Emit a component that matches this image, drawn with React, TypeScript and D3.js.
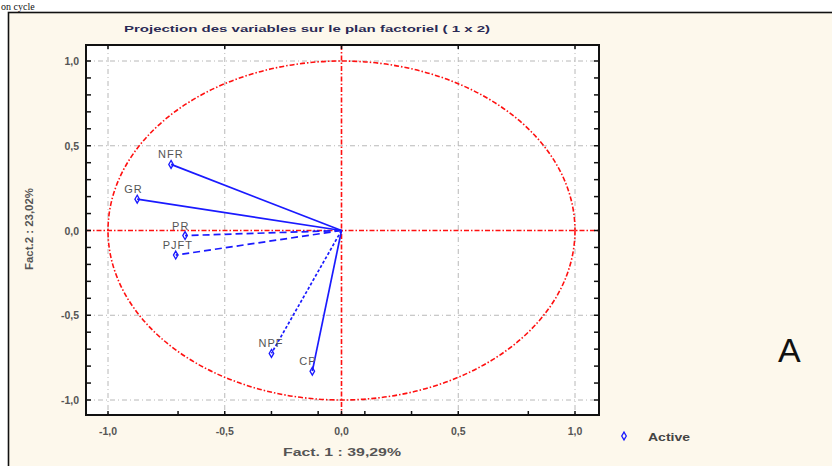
import React from "react";
import * as d3 from "d3";

const variables = ["NFR", "GR", "PR", "PJFT", "NPF", "CP"];
const fact1 = [-0.73, -0.875, -0.67, -0.71, -0.30, -0.125];
const fact2 = [0.39, 0.185, -0.03, -0.145, -0.725, -0.83];
const dashes = ["none", "none", "7,4", "7,4", "3,2", "none"];
const majorTicks = [-1, -0.5, 0, 0.5, 1];
const majorTickLabels = ["-1,0", "-0,5", "0,0", "0,5", "1,0"];
const xMinorTicks = [-0.7, -0.3, -0.1, 0.1, 0.3, 0.8];
const yMinorTicks = d3.range(-10, 11).map((d) => d / 10);

export default function App() {
  const x = d3.scaleLinear().domain([-1, 1]).range([108, 575]);
  const y = d3.scaleLinear().domain([-1, 1]).range([400, 61]);
  const plot = { left: 86, right: 599, top: 45, bottom: 415 };
  const blue = "#1a1aff";
  const red = "#ff1010";
  const grid = "#b8b8b8";
  return (
    <svg width={832} height={466} style={{ position: "absolute", left: 0, top: 0 }} fontFamily="Liberation Sans, Arial, sans-serif">
      <rect x={0} y={0} width={832} height={466} fill="#ffffff" />
      <text x={1} y={9.5} fontFamily="Liberation Serif, Times New Roman, serif" fontSize={10} fill="#111">on cycle</text>
      <rect x={8.5} y={12.5} width={840} height={470} fill="#fdf8ec" stroke="#111" strokeWidth={1.6} />
      <text x={307} y={32} textAnchor="middle" fontSize={9.5} fontWeight="bold" fill="#2a2a55" textLength={366} lengthAdjust="spacingAndGlyphs">Projection des variables sur le plan factoriel (  1 x  2)</text>
      <rect x={plot.left} y={plot.top} width={plot.right - plot.left} height={plot.bottom - plot.top} fill="#ffffff" />
      {/* grid */}
      {majorTicks.filter((t) => t !== 0).map((t) => (
        <g key={"g" + t}>
          <line x1={x(t)} x2={x(t)} y1={plot.top} y2={plot.bottom} stroke={grid} strokeWidth={1} strokeDasharray="5,3,1,3" />
          <line x1={plot.left} x2={plot.right} y1={y(t)} y2={y(t)} stroke={grid} strokeWidth={1} strokeDasharray="5,3,1,3" />
        </g>
      ))}
      {/* red circle and axes */}
      <ellipse cx={x(0)} cy={y(0)} rx={x(1) - x(0)} ry={y(0) - y(1)} fill="none" stroke={red} strokeWidth={1.6} strokeDasharray="5,2,1.5,2" />
      <line x1={x(0)} x2={x(0)} y1={plot.top} y2={plot.bottom} stroke={red} strokeWidth={1.6} strokeDasharray="5,2,1.5,2" />
      <line x1={plot.left} x2={plot.right} y1={y(0)} y2={y(0)} stroke={red} strokeWidth={1.6} strokeDasharray="5,2,1.5,2" />
      {/* vectors */}
      {variables.map((v, i) => (
        <g key={v}>
          <line x1={x(0)} y1={y(0)} x2={x(fact1[i])} y2={y(fact2[i])} stroke={blue} strokeWidth={1.7} strokeDasharray={dashes[i]} />
          <path d={d3.symbol(d3.symbolDiamond, 18)() || ""} transform={`translate(${x(fact1[i])},${y(fact2[i])})`} fill="none" stroke={blue} strokeWidth={1.3} />
          <text x={x(fact1[i]) - 13} y={y(fact2[i]) - 6} fontSize={11} fill="#555" letterSpacing={1}>{v}</text>
        </g>
      ))}
      {/* frame */}
      <rect x={plot.left} y={plot.top} width={plot.right - plot.left} height={plot.bottom - plot.top} fill="none" stroke="#111" strokeWidth={2} />
      {/* ticks */}
      {majorTicks.map((t) => (
        <g key={"t" + t}>
          <line x1={x(t)} x2={x(t)} y1={plot.top} y2={plot.top + 4} stroke="#111" strokeWidth={1.5} />
          <line x1={x(t)} x2={x(t)} y1={plot.bottom} y2={plot.bottom - 4} stroke="#111" strokeWidth={1.5} />
        </g>
      ))}
      {xMinorTicks.map((t) => (
        <line key={"xm" + t} x1={x(t)} x2={x(t)} y1={plot.bottom} y2={plot.bottom - 4} stroke="#111" strokeWidth={1.5} />
      ))}
      {yMinorTicks.map((t) => (
        <g key={"ym" + t}>
          <line x1={plot.left} x2={plot.left + 5} y1={y(t)} y2={y(t)} stroke="#111" strokeWidth={1.5} />
          <line x1={plot.right} x2={plot.right - 5} y1={y(t)} y2={y(t)} stroke="#111" strokeWidth={1.5} />
        </g>
      ))}
      {majorTicks.map((t, i) => (
        <g key={"l" + t}>
          <text x={x(t)} y={435} textAnchor="middle" fontSize={10.5} fontWeight="bold" fill="#555">{majorTickLabels[i]}</text>
          <text x={79} y={y(t) + 4} textAnchor="end" fontSize={10.5} fontWeight="bold" fill="#555">{majorTickLabels[i]}</text>
        </g>
      ))}
      <text x={342} y={456} textAnchor="middle" fontSize={10.5} fontWeight="bold" fill="#555" textLength={118} lengthAdjust="spacingAndGlyphs">Fact. 1 : 39,29%</text>
      <text transform="translate(33,229) rotate(-90)" textAnchor="middle" fontSize={10.5} fontWeight="bold" fill="#555" textLength={82} lengthAdjust="spacingAndGlyphs">Fact.2 : 23,02%</text>
      {/* legend */}
      <path d={d3.symbol(d3.symbolDiamond, 18)() || ""} transform="translate(624,436)" fill="none" stroke={blue} strokeWidth={1.3} />
      <text x={648} y={441} fontSize={11} fontWeight="bold" fill="#444" textLength={42} lengthAdjust="spacingAndGlyphs">Active</text>
      <text x={778} y={362} fontSize={34} fill="#111">A</text>
    </svg>
  );
}
